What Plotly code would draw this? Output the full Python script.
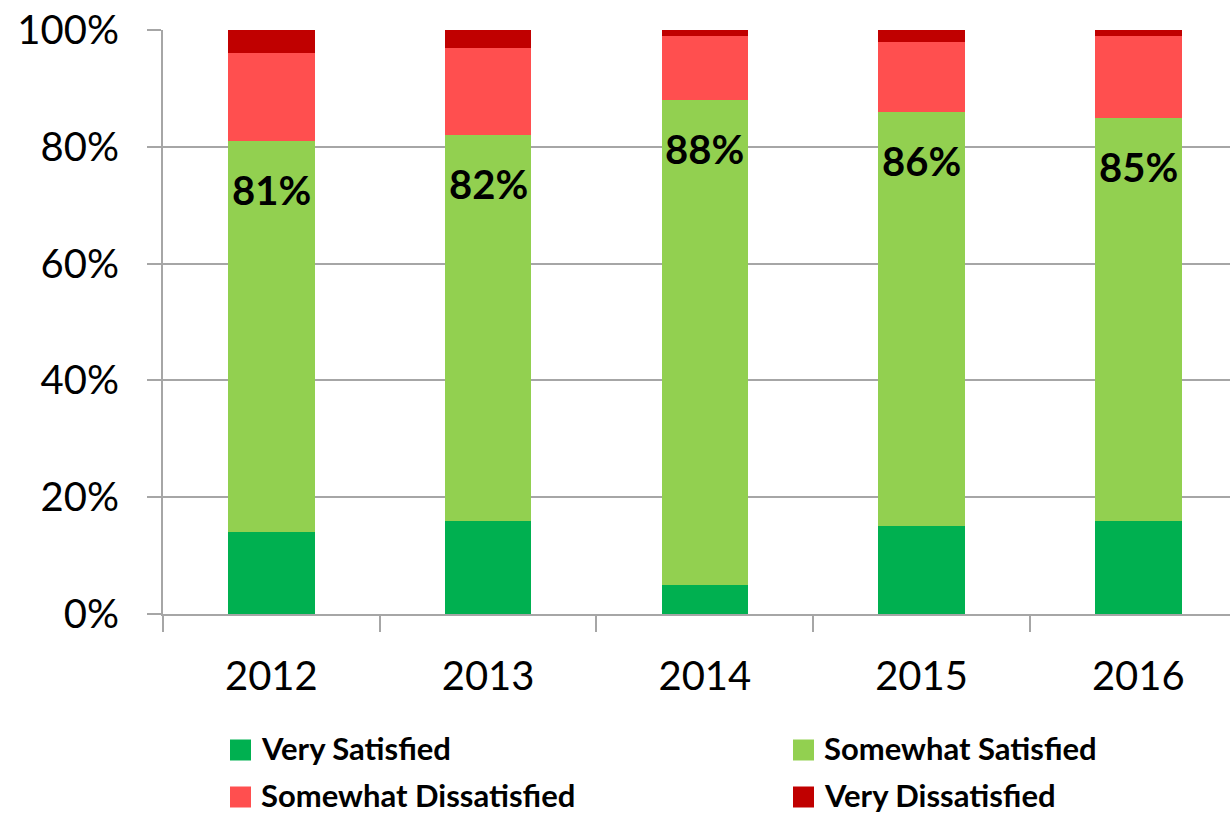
import plotly.graph_objects as go

years = ["2012", "2013", "2014", "2015", "2016"]
very_satisfied = [14, 16, 5, 15, 16]
somewhat_satisfied = [67, 66, 83, 71, 69]
somewhat_dissatisfied = [15, 15, 11, 12, 14]
very_dissatisfied = [4, 3, 1, 2, 1]
total_satisfied = [81, 82, 88, 86, 85]
label_text = ["81%", "82%", "88%", "86%", "85%"]
y_tickvals = [0, 20, 40, 60, 80, 100]
y_ticktext = ["0%", "20%", "40%", "60%", "80%", "100%"]

series_names = ["Very Satisfied", "Somewhat Satisfied", "Somewhat Dissatisfied", "Very Dissatisfied"]
series_values = [very_satisfied, somewhat_satisfied, somewhat_dissatisfied, very_dissatisfied]
series_colors = ["#00B050", "#92D050", "#FF4F4F", "#C00000"]

FONT = "Lato"
W, H = 1230, 816
ML, MR, MT, MB = 163, 0, 30, 202
PW, PH = W - ML - MR, H - MT - MB


def px_x(px):
    return (px - ML) / PW


def px_y(py):
    return (H - MB - py) / PH


fig = go.Figure()
for name, vals, col in zip(series_names, series_values, series_colors):
    fig.add_trace(go.Bar(
        x=years, y=vals, name=name, marker=dict(color=col, line=dict(width=0)),
        width=0.4, showlegend=False,
    ))

# value labels at the top of the "satisfied" stack
for i, (tot, txt) in enumerate(zip(total_satisfied, label_text)):
    fig.add_annotation(
        x=i, y=tot, xref="x", yref="y", text="<b>" + txt + "</b>", showarrow=False,
        yanchor="middle", yshift=-49,
        font=dict(family=FONT, size=40, color="black"),
    )

# manual two-column legend below the plot
col_px = [230, 793]
row_px = [750, 797]
shapes = []
for k, (name, col) in enumerate(zip(series_names, series_colors)):
    cx = col_px[k % 2]
    cy = row_px[k // 2]
    shapes.append(dict(
        type="rect", xref="paper", yref="paper",
        x0=px_x(cx), x1=px_x(cx + 21), y0=px_y(cy - 10.5), y1=px_y(cy + 10.5),
        fillcolor=col, line=dict(width=0),
    ))
    fig.add_annotation(
        x=px_x(cx + 30), y=px_y(cy - 2), xref="paper", yref="paper",
        xanchor="left", yanchor="middle", showarrow=False,
        text="<b>" + name + "</b>", borderpad=0,
        font=dict(family=FONT, size=31, color="black"),
    )

fig.update_layout(
    width=W, height=H,
    barmode="stack",
    paper_bgcolor="white", plot_bgcolor="white",
    margin=dict(l=ML, r=MR, t=MT, b=MB, autoexpand=False),
    font=dict(family=FONT, color="black"),
    showlegend=False,
    shapes=shapes,
    xaxis=dict(
        type="category",
        range=[-0.5, 4.423], showgrid=False,
        showline=True, linecolor="#A6A6A6", linewidth=2,
        ticks="outside", tickson="boundaries", ticklen=16, tickcolor="#A6A6A6", tickwidth=2,
        tickfont=dict(family=FONT, size=40, color="black"),
        ticklabelstandoff=26,
        automargin=False,
    ),
    yaxis=dict(
        range=[0, 100], tickmode="array", tickvals=y_tickvals, ticktext=y_ticktext,
        showgrid=True, gridcolor="#A6A6A6", gridwidth=2,
        showline=True, linecolor="#A6A6A6", linewidth=2,
        ticks="outside", ticklen=14, tickcolor="#A6A6A6", tickwidth=2,
        tickfont=dict(family=FONT, size=40, color="black"),
        ticklabelstandoff=20,
        zeroline=False, automargin=False,
    ),
)

fig.write_html("out.html")
